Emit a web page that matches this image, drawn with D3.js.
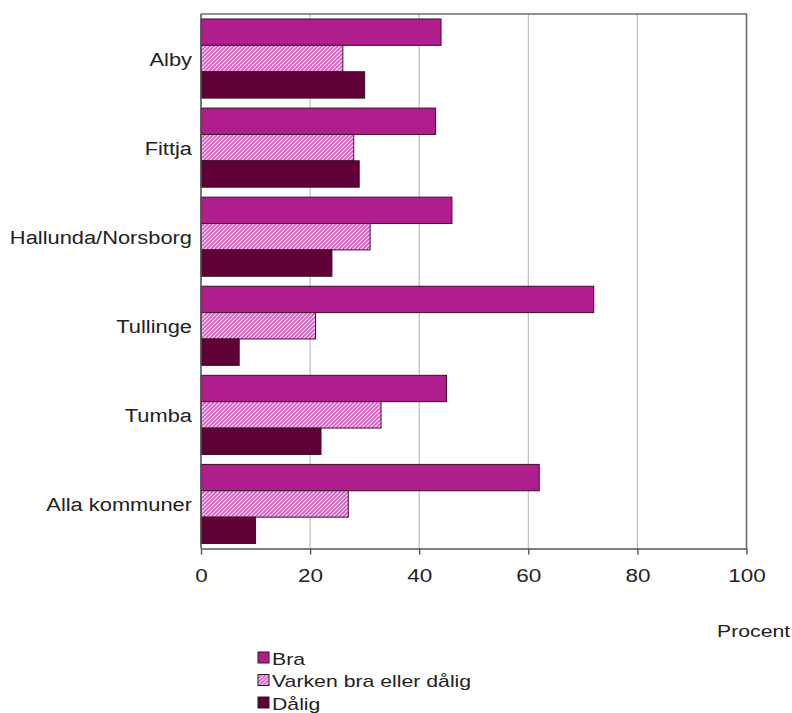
<!DOCTYPE html>
<html>
<head>
<meta charset="utf-8">
<script src="https://cdn.jsdelivr.net/npm/d3@7"></script>
<style>
  html, body { margin: 0; padding: 0; background: #fff; }
  svg { display: block; font-family: "Liberation Sans", Arial, sans-serif; }
</style>
</head>
<body>
<svg id="chart" width="792" height="713"></svg>
<script>
// ---- data ----
const categories = ["Alby", "Fittja", "Hallunda/Norsborg", "Tullinge", "Tumba", "Alla kommuner"];
const seriesNames = ["Bra", "Varken bra eller dålig", "Dålig"];
const braValues = [44, 43, 46, 72, 45, 62];
const varkenValues = [26, 28, 31, 21, 33, 27];
const daligValues = [30, 29, 24, 7, 22, 10];
const xTicks = [0, 20, 40, 60, 80, 100];
const axisTitle = "Procent";

const seriesValues = [braValues, varkenValues, daligValues];

const svg = d3.select("#chart");
const defs = svg.append("defs");
const pat = defs.append("pattern")
  .attr("id", "hatch")
  .attr("patternUnits", "userSpaceOnUse")
  .attr("width", 4).attr("height", 4);
pat.append("rect").attr("width", 4).attr("height", 4).attr("fill", "#fbe6f6");
pat.append("path")
  .attr("d", "M-1,1 l2,-2 M0,4 l4,-4 M3,5 l2,-2")
  .attr("stroke", "#d25ec4").attr("stroke-width", 1.7);

const fills = ["#b01e8e", "url(#hatch)", "#5f0037"];

const pLeft = 201, pRight = 746.5, pTop = 14, pBottom = 548.5;

const x = d3.scaleLinear().domain([0, 100]).range([pLeft, pRight]);
const y = d3.scaleBand().domain(categories).range([pTop, pBottom])
  .paddingInner(0.112).paddingOuter(0.056);
const ySub = d3.scaleBand().domain(d3.range(seriesNames.length)).range([0, y.bandwidth()]);

// gridlines
svg.append("g").selectAll("line")
  .data(xTicks.filter(t => t > 0 && t < 100))
  .join("line")
  .attr("x1", d => x(d)).attr("x2", d => x(d))
  .attr("y1", pTop).attr("y2", pBottom)
  .attr("stroke", "#bdbdbd").attr("stroke-width", 1.2);

// frame top/right
svg.append("path")
  .attr("d", `M${pLeft},${pTop}H${pRight}V${pBottom}`)
  .attr("fill", "none").attr("stroke", "#6e6e6e").attr("stroke-width", 1.6);

// bars
const rows = [];
categories.forEach((c, i) => {
  seriesValues.forEach((vals, s) => rows.push({ c, s, v: vals[i] }));
});
svg.append("g").selectAll("rect")
  .data(rows)
  .join("rect")
  .attr("x", x(0))
  .attr("y", d => y(d.c) + ySub(d.s))
  .attr("width", d => x(d.v) - x(0))
  .attr("height", ySub.bandwidth())
  .attr("fill", d => fills[d.s])
  .attr("stroke", "#3a1028").attr("stroke-width", 1);

// left axis line
svg.append("line")
  .attr("x1", pLeft).attr("x2", pLeft).attr("y1", pTop).attr("y2", pBottom)
  .attr("stroke", "#555").attr("stroke-width", 1.6);

// bottom axis
const xAxis = svg.append("g")
  .attr("transform", `translate(0,${pBottom})`)
  .call(d3.axisBottom(x).tickValues(xTicks).tickSize(6).tickSizeOuter(0).tickFormat(d3.format("d")));
xAxis.select(".domain").attr("stroke", "#555").attr("stroke-width", 1.6);
xAxis.selectAll(".tick line").attr("stroke", "#555").attr("stroke-width", 1.4);
xAxis.selectAll(".tick text").remove();
xAxis.selectAll(".tick").append("text")
  .attr("transform", "translate(0,33) scale(1.25,1)")
  .attr("text-anchor", "middle")
  .attr("font-size", 18)
  .attr("fill", "#222")
  .text(d => d);

// category labels
svg.append("g").selectAll("text")
  .data(categories)
  .join("text")
  .attr("transform", d => `translate(192,${y(d) + y.bandwidth() / 2 + 7}) scale(1.15,1)`)
  .attr("text-anchor", "end")
  .attr("font-size", 19)
  .attr("fill", "#222")
  .text(d => d);

// axis title
svg.append("text")
  .attr("transform", "translate(717,637) scale(1.25,1)")
  .attr("font-size", 17)
  .attr("fill", "#222")
  .text(axisTitle);

// legend
const lg = svg.append("g").selectAll("g")
  .data(seriesNames)
  .join("g")
  .attr("transform", (d, i) => `translate(258,${652 + i * 22.5})`);
lg.append("rect")
  .attr("width", 11).attr("height", 11)
  .attr("fill", (d, i) => fills[i])
  .attr("stroke", "#3a1028").attr("stroke-width", 1);
lg.append("text")
  .attr("transform", "translate(14,12.5) scale(1.25,1)")
  .attr("font-size", 17)
  .attr("fill", "#222")
  .text(d => d);
</script>
</body>
</html>
